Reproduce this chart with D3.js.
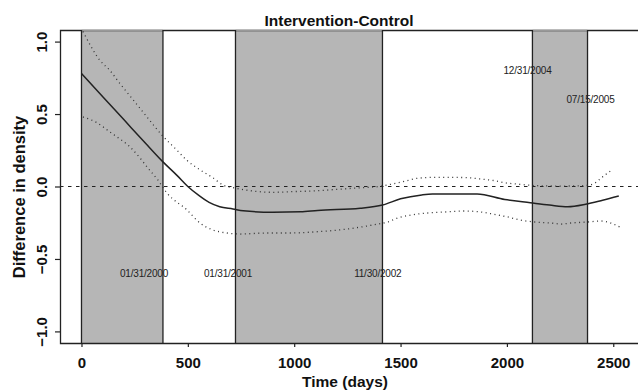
<!DOCTYPE html>
<html>
<head>
<meta charset="utf-8">
<script src="https://cdn.jsdelivr.net/npm/d3@7"></script>
<style>
  body { margin: 0; background: #fff; }
  text { font-family: "Liberation Sans", Arial, Helvetica, sans-serif; fill: #111; }
</style>
</head>
<body>
<div id="chart"></div>
<script>
// values (days since start, difference in density)
var estimate = [
  [0, 0.78], [100, 0.62], [200, 0.46], [300, 0.30], [383, 0.17], [450, 0.075],
  [500, 0.0], [550, -0.06], [600, -0.11], [650, -0.14], [712, -0.155], [760, -0.168],
  [900, -0.178], [1030, -0.175], [1110, -0.165], [1310, -0.15], [1415, -0.128],
  [1500, -0.085], [1600, -0.058], [1650, -0.052], [1860, -0.052], [1990, -0.09],
  [2110, -0.112], [2200, -0.128], [2286, -0.14], [2370, -0.123], [2450, -0.095], [2526, -0.066]
];
var upper = [
  [7, 1.07], [87, 0.87], [134, 0.80], [181, 0.71], [242, 0.60], [308, 0.48], [378, 0.355],
  [449, 0.25], [496, 0.18], [557, 0.115], [618, 0.06], [665, 0.01], [720, -0.01],
  [800, -0.03], [900, -0.04], [1000, -0.035], [1100, -0.03], [1200, -0.02], [1300, -0.01],
  [1400, 0.0], [1436, 0.01], [1511, 0.033], [1582, 0.057], [1662, 0.063], [1741, 0.063],
  [1812, 0.061], [1873, 0.052], [1943, 0.04], [1990, 0.026], [2061, 0.015], [2150, 0.005],
  [2250, 0.003], [2350, 0.005], [2404, 0.017], [2451, 0.068], [2493, 0.114]
];
var lower = [
  [7, 0.48], [73, 0.44], [134, 0.376], [167, 0.342], [228, 0.273], [275, 0.197], [308, 0.135],
  [359, 0.045], [402, -0.045], [496, -0.162], [557, -0.252], [618, -0.30], [684, -0.321],
  [745, -0.328], [872, -0.321], [980, -0.321], [1088, -0.314], [1252, -0.293], [1313, -0.28],
  [1393, -0.259], [1440, -0.245], [1487, -0.217], [1548, -0.197], [1628, -0.183],
  [1708, -0.176], [1802, -0.169], [1877, -0.176], [1957, -0.197], [2004, -0.21],
  [2061, -0.231], [2131, -0.245], [2207, -0.252], [2254, -0.259], [2300, -0.252],
  [2380, -0.245], [2441, -0.238], [2488, -0.252], [2531, -0.28]
];
// shaded periods and the dates that bound them
var shaded = [[0, 383], [724, 1415], [2120, 2379]];
var boundaries = [0, 383, 724, 1415, 2120, 2379];
var dateLabels = ["01/31/2000", "01/31/2001", "11/30/2002", "12/31/2004", "07/15/2005"];
var dateDays = [294, 689, 1393, 2097, 2393];
var dateValues = [-0.6, -0.6, -0.6, 0.8, 0.6];
var xTicks = [0, 500, 1000, 1500, 2000, 2500];
var yTicks = [-1.0, -0.5, 0.0, 0.5, 1.0];

var W = 638, H = 390;
var margin = { top: 30, right: -1, bottom: 47, left: 60 },
  width = W - margin.left - margin.right,
  height = H - margin.top - margin.bottom;

var svg = d3.select("#chart").append("svg")
  .attr("width", W)
  .attr("height", H);

var g = svg.append("g")
  .attr("transform", "translate(" + margin.left + "," + margin.top + ")");

var x = d3.scaleLinear().domain([-101, 2621]).range([0, width]);
var y = d3.scaleLinear().domain([-1.08, 1.08]).range([height, 0]);

g.append("defs").append("clipPath").attr("id", "clip")
  .append("rect").attr("width", width).attr("height", height);

// shaded periods
g.selectAll("rect.period")
  .data(shaded)
  .enter().append("rect")
  .attr("class", "period")
  .attr("x", d => x(d[0]))
  .attr("width", d => x(d[1]) - x(d[0]))
  .attr("y", 0)
  .attr("height", height)
  .style("fill", "#b6b6b6");

// frame (left, top, bottom); right side is cut off by the picture
g.append("path")
  .attr("d", "M" + width + ",0.5H0.5V" + (height + 0.5) + "H" + width)
  .style("fill", "none")
  .style("stroke", "#222")
  .style("stroke-width", 1.3);

// top edge over the shaded periods is lighter
g.selectAll("line.ptop")
  .data(shaded)
  .enter().append("line")
  .attr("class", "ptop")
  .attr("x1", d => x(d[0])).attr("x2", d => x(d[1]))
  .attr("y1", 0.5).attr("y2", 0.5)
  .style("stroke", "#999")
  .style("stroke-width", 1.3);

// period boundaries
g.selectAll("line.bound")
  .data(boundaries)
  .enter().append("line")
  .attr("class", "bound")
  .attr("x1", d => x(d)).attr("x2", d => x(d))
  .attr("y1", 0).attr("y2", height)
  .style("stroke", "#222")
  .style("stroke-width", 1.3);

// zero reference
g.append("line")
  .attr("x1", 0).attr("x2", width)
  .attr("y1", y(0)).attr("y2", y(0))
  .style("stroke", "#222")
  .style("stroke-width", 1.1)
  .style("stroke-dasharray", "3.5,4.5");

var line = d3.line().x(d => x(d[0])).y(d => y(d[1])).curve(d3.curveMonotoneX);
var curves = g.append("g").attr("clip-path", "url(#clip)");

curves.append("path")
  .datum(estimate)
  .attr("d", line)
  .style("fill", "none")
  .style("stroke", "#222")
  .style("stroke-width", 1.5);

[upper, lower].forEach(function (band) {
  curves.append("path")
    .datum(band)
    .attr("d", line)
    .style("fill", "none")
    .style("stroke", "#333")
    .style("stroke-width", 1.3)
    .style("stroke-dasharray", "1,3.5");
});

// date annotations
g.selectAll("text.date")
  .data(dateLabels)
  .enter().append("text")
  .attr("class", "date")
  .attr("x", (d, i) => x(dateDays[i]))
  .attr("y", (d, i) => y(dateValues[i]))
  .attr("dy", "0.35em")
  .attr("text-anchor", "middle")
  .style("font-size", "10px")
  .style("letter-spacing", "-0.2px")
  .style("fill", "#222")
  .text(d => d);

// axes
var xAxis = g.append("g")
  .attr("transform", "translate(0," + height + ")")
  .call(d3.axisBottom(x).tickValues(xTicks).tickSize(4).tickPadding(0).tickFormat(d3.format("d")));
xAxis.select(".domain").remove();
xAxis.selectAll("line").style("stroke", "#222").style("stroke-width", 1.2);
xAxis.selectAll("text")
  .attr("y", 14)
  .style("font-size", "15px")
  .style("font-weight", "bold")
  .style("fill", "#111");

var yAxis = g.append("g")
  .call(d3.axisLeft(y).tickValues(yTicks).tickSize(5).tickFormat(d3.format(".1f")));
yAxis.select(".domain").remove();
yAxis.selectAll("line").style("stroke", "#222").style("stroke-width", 1.2);
yAxis.selectAll("text")
  .attr("transform", "rotate(-90)")
  .attr("x", 0)
  .attr("y", -13)
  .attr("dy", 0)
  .attr("text-anchor", "middle")
  .style("font-size", "15px")
  .style("font-weight", "bold")
  .style("fill", "#111");

// titles
svg.append("text")
  .attr("x", 339).attr("y", 26)
  .attr("text-anchor", "middle")
  .style("font-size", "15.5px")
  .style("font-weight", "bold")
  .text("Intervention-Control");

svg.append("text")
  .attr("x", 345).attr("y", 387)
  .attr("text-anchor", "middle")
  .style("font-size", "15.5px")
  .style("font-weight", "bold")
  .text("Time (days)");

svg.append("text")
  .attr("transform", "translate(25,197) rotate(-90)")
  .attr("text-anchor", "middle")
  .style("font-size", "16.5px")
  .style("font-weight", "bold")
  .text("Difference in density");
</script>
</body>
</html>
